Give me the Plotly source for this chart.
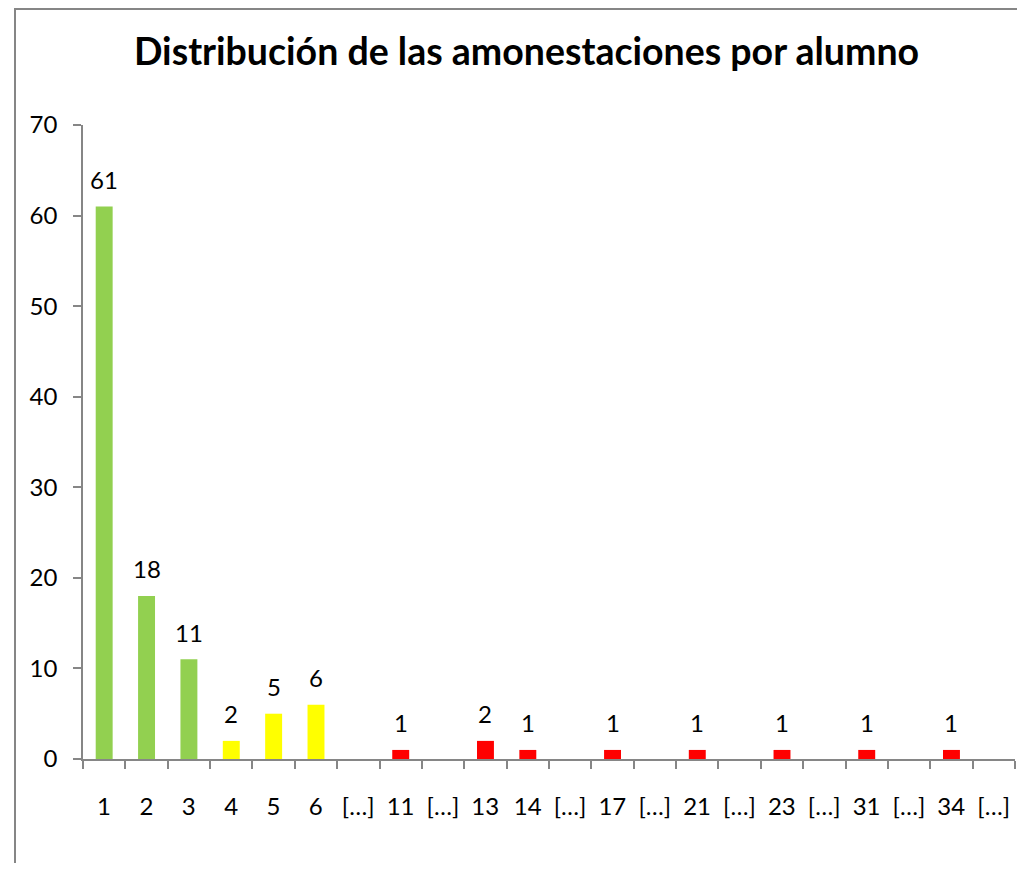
import plotly.graph_objects as go

categories = ["1", "2", "3", "4", "5", "6", "[…]", "11", "[…]", "13", "14", "[…]",
              "17", "[…]", "21", "[…]", "23", "[…]", "31", "[…]", "34", "[…]"]
values = [61, 18, 11, 2, 5, 6, None, 1, None, 2, 1, None,
          1, None, 1, None, 1, None, 1, None, 1, None]
groups = ["green", "green", "green", "yellow", "yellow", "yellow", None, "red", None, "red", "red", None,
          "red", None, "red", None, "red", None, "red", None, "red", None]
palette = {"green": "#92D050", "yellow": "#FFFF00", "red": "#FF0000", None: "rgba(0,0,0,0)"}
title = "Distribución de las amonestaciones por alumno"
y_ticks = [0, 10, 20, 30, 40, 50, 60, 70]

FONT = "Lato"
OFF = 8  # page body margin
W, H = 1025 - 2 * OFF, 877 - 2 * OFF - 6
ml, mr, mt, mb = 83 - OFF, W - (1015 - OFF), 125 - OFF, H - (759 - OFF)

xs = list(range(len(categories)))
fig = go.Figure()
fig.add_trace(go.Bar(
    x=xs, y=[v if v is not None else 0 for v in values],
    width=0.4,
    marker=dict(color=[palette[g] for g in groups], line=dict(width=0)),
    hoverinfo="skip",
))

for i, v in enumerate(values):
    if v is not None:
        fig.add_annotation(x=i, y=v, text=str(v), showarrow=False,
                           yanchor="middle", yshift=27,
                           font=dict(family=FONT, size=24, color="#000000"))

pw = W - ml - mr
ph = H - mt - mb
step_px = pw / len(categories)

# chart-area frame (only top and left edges are visible in the reference)
fx_left = (15 - OFF - ml) / pw
fx_right = (W - ml) / pw
fy_top = (H - mb - 1) / ph
fy_bottom = (H - mb - H) / ph
frame_path = f"M {fx_right},{fy_top} L {fx_left},{fy_top} L {fx_left},{fy_bottom}"

fig.update_layout(
    width=W, height=H,
    margin=dict(l=ml, r=mr, t=mt, b=mb),
    paper_bgcolor="white", plot_bgcolor="white",
    showlegend=False,
    title=dict(text="<b>" + title + "</b>", x=(526.5 - OFF) / W, xanchor="center",
               xref="container", yref="container", y=1 - (52 - OFF) / H, yanchor="middle",
               font=dict(family=FONT, size=37.5, color="#000000")),
    xaxis=dict(
        range=[-0.5, len(categories) - 0.5],
        tickmode="array",
        tickvals=[i - 0.5 for i in range(len(categories) + 1)],
        ticktext=categories + [""],
        ticklabelshift=int(round(step_px / 2)),
        ticklabelstandoff=17,
        ticks="outside", ticklen=8, tickwidth=1.5, tickcolor="#868686",
        showline=True, linecolor="#868686", linewidth=1.5,
        showgrid=False, zeroline=False, fixedrange=True,
        tickfont=dict(family=FONT, size=24, color="#000000"),
    ),
    yaxis=dict(
        range=[0, 70],
        tickmode="array", tickvals=y_ticks,
        ticks="outside", ticklen=8, tickwidth=1.5, tickcolor="#868686",
        showline=True, linecolor="#868686", linewidth=1.5,
        showgrid=False, zeroline=False, fixedrange=True,
        ticklabelstandoff=11,
        tickfont=dict(family=FONT, size=24, color="#000000"),
    ),
    shapes=[dict(type="path", xref="paper", yref="paper", path=frame_path,
                 line=dict(color="#868686", width=2), layer="below")],
)

fig.write_html("out.html")
